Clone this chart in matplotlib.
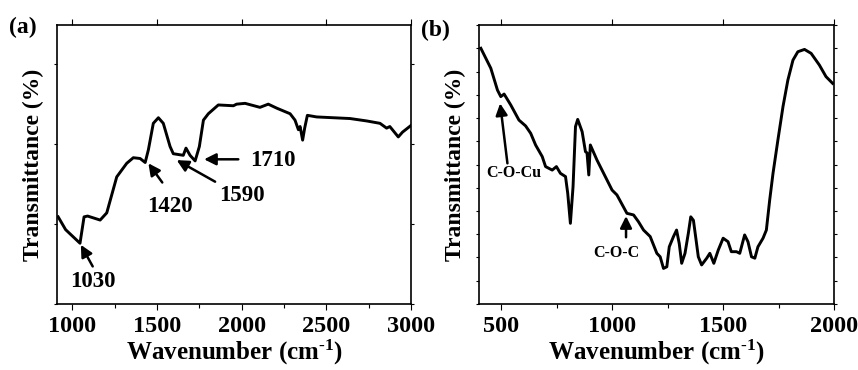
import numpy as np
import matplotlib.pyplot as plt
from matplotlib.ticker import MultipleLocator

plt.rcParams['font.family'] = ['Liberation Serif', 'DejaVu Serif']
plt.rcParams['font.weight'] = 'bold'
plt.rcParams['mathtext.fontset'] = 'custom'
plt.rcParams['mathtext.rm'] = 'Liberation Serif:bold'
plt.rcParams['mathtext.it'] = 'Liberation Serif:bold'
plt.rcParams['mathtext.bf'] = 'Liberation Serif:bold'

# (a) FTIR spectrum, 900-3000 cm-1
wn_a = [916, 960, 1045, 1069, 1090, 1164, 1203, 1262, 1321, 1360, 1400, 1430,
        1449, 1478, 1508, 1537, 1577, 1596, 1655, 1671, 1695, 1725, 1750, 1774,
        1803, 1862, 1951, 1970, 2020, 2108, 2157, 2207, 2286, 2315, 2335, 2345,
        2360, 2372, 2388, 2443, 2640, 2738, 2817, 2856, 2875, 2925, 2950, 2998]
tr_a = [1.09, 0.93, 0.76, 1.09, 1.10, 1.05, 1.14, 1.59, 1.76, 1.83, 1.82, 1.77,
        1.93, 2.26, 2.33, 2.26, 1.97, 1.88, 1.86, 1.95, 1.86, 1.79, 1.97, 2.30,
        2.38, 2.49, 2.48, 2.50, 2.51, 2.46, 2.50, 2.45, 2.38, 2.30, 2.18, 2.22,
        2.05, 2.20, 2.36, 2.34, 2.32, 2.29, 2.26, 2.20, 2.22, 2.09, 2.15, 2.23]

# (b) FTIR spectrum, 400-2000 cm-1
wn_b = [407, 452, 482, 497, 512, 542, 579, 609, 632, 654, 684, 699, 729, 748,
        766, 789, 799, 811, 823, 834, 844, 864, 879, 886, 894, 901, 931, 961,
        999, 1021, 1066, 1096, 1118, 1141, 1171, 1201, 1216, 1231, 1246, 1257,
        1276, 1290, 1302, 1313, 1328, 1343, 1354, 1366, 1378, 1388, 1403, 1426,
        1440, 1458, 1478, 1500, 1522, 1537, 1560, 1575, 1597, 1612, 1628, 1643,
        1657, 1680, 1695, 1710, 1725, 1747, 1770, 1792, 1815, 1837, 1867, 1897,
        1934, 1964, 1994]
tr_b = [11.0, 10.14, 9.20, 8.92, 9.03, 8.56, 7.91, 7.66, 7.34, 6.84, 6.34, 5.91,
        5.76, 5.91, 5.62, 5.48, 4.76, 3.47, 5.05, 7.63, 7.94, 7.41, 6.55, 6.50,
        5.55, 6.84, 6.19, 5.62, 4.90, 4.69, 3.90, 3.83, 3.54, 3.18, 2.90, 2.18,
        2.03, 1.53, 1.60, 2.46, 2.90, 3.18, 2.60, 1.75, 2.18, 3.04, 3.75, 3.60,
        2.75, 2.03, 1.68, 1.97, 2.18, 1.75, 2.32, 2.83, 2.68, 2.25, 2.25, 2.18,
        2.97, 2.68, 2.03, 1.97, 2.46, 2.83, 3.18, 4.47, 5.62, 7.05, 8.49, 9.63,
        10.49, 10.85, 10.95, 10.78, 10.28, 9.78, 9.49]

# annotations: label, arrow tip (wn, T), arrow tail (wn, T), text pos
notes_a = [('1030', (1050, 0.74), (1120, 0.47), (1120, 0.28), 'center'),
           ('1420', (1449, 1.76), (1531, 1.52), (1577, 1.22), 'center'),
           ('1590', (1616, 1.80), (1843, 1.53), (2000, 1.36), 'center'),
           ('1710', (1778, 1.81), (1980, 1.81), (2049, 1.79), 'left')]
notes_b = [('C-O-Cu', (494, 8.63), (527, 6.05), (555, 5.62), 'center'),
           ('C-O-C', (1062, 3.78), (1062, 2.87), (1018, 2.21), 'center')]

fig = plt.figure(figsize=(8.58, 3.70), dpi=100, facecolor='white')
ax1 = fig.add_axes([0.0668, 0.1784, 0.4122, 0.754])
ax2 = fig.add_axes([0.5586, 0.1784, 0.4134, 0.754])


def style(ax, xlim, ylim, ystep):
    ax.set_xlim(*xlim)
    ax.set_ylim(*ylim)
    ax.xaxis.set_major_locator(MultipleLocator(500))
    ax.xaxis.set_minor_locator(MultipleLocator(250))
    ax.yaxis.set_major_locator(MultipleLocator(ystep))
    ax.set_yticklabels([])
    ax.tick_params(axis='x', which='major', direction='out', length=4, width=0.8,
                   labelsize=17.5, pad=5, top=True)
    ax.tick_params(axis='x', which='minor', direction='out', length=3, width=0.8, top=False)
    ax.tick_params(axis='y', which='major', direction='out', length=2, width=0.8,
                   right=True)
    for lab in ax.get_xticklabels():
        lab.set_fontweight('bold')
    for sp in ax.spines.values():
        sp.set_linewidth(1.2)
    ax.set_xlabel('Wavenumber (cm$^{\\text{-1}}$)', fontsize=18, fontweight='bold',
                  labelpad=0)
    ax.set_ylabel('Transmittance (%)', fontsize=17, fontweight='bold', labelpad=4)


ax1.plot(wn_a, tr_a, color='black', lw=2.1)
style(ax1, (911, 3000), (0, 3.49), 1)
ax2.plot(wn_b, tr_b, color='black', lw=2.1)
style(ax2, (400, 2000), (0, 12), 1)

for ax, notes, fs in [(ax1, notes_a, 16.5), (ax2, notes_b, 11.5)]:
    for label, tip, tail, pos, ha in notes:
        ax.annotate('', xy=tip, xytext=tail,
                    arrowprops=dict(arrowstyle='-|>,head_length=0.7,head_width=0.35',
                                    color='black', lw=1.8, shrinkA=0, shrinkB=0))
        ax.text(pos[0], pos[1], label, fontsize=fs, fontweight='bold',
                ha=ha, va='center')

fig.text(0.010, 0.927, '(a)', fontsize=17, fontweight='bold', va='center')
fig.text(0.491, 0.919, '(b)', fontsize=17, fontweight='bold', va='center')

fig.savefig('out.png', dpi=100)
